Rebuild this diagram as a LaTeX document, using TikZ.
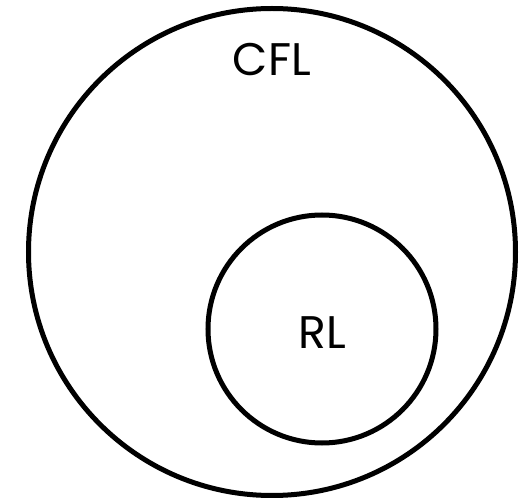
\documentclass[tikz,border=0pt]{standalone}
\usepackage{fontspec}
\setmainfont{Poppins}
\usetikzlibrary{positioning}

\begin{document}
\begin{tikzpicture}[
    line width=0.1cm,
    set node/.style={circle, draw=black, inner sep=0pt},
    set label/.style={font=\fontsize{26}{30}\selectfont}
]
    \useasboundingbox (0,0) rectangle (10.44,9.98);

    % Sets
    \node[set node, minimum size=9.74cm] (cfl) at (5.44, 4.94) {};
    \node[set node, minimum size=4.56cm] (rl) at (6.44, 3.40) {};

    % Labels
    \node[set label] (cfl label) at (5.44, 8.78) {CFL};
    \node[set label] (rl label) at (6.44, 3.32) {RL};
\end{tikzpicture}
\end{document}
